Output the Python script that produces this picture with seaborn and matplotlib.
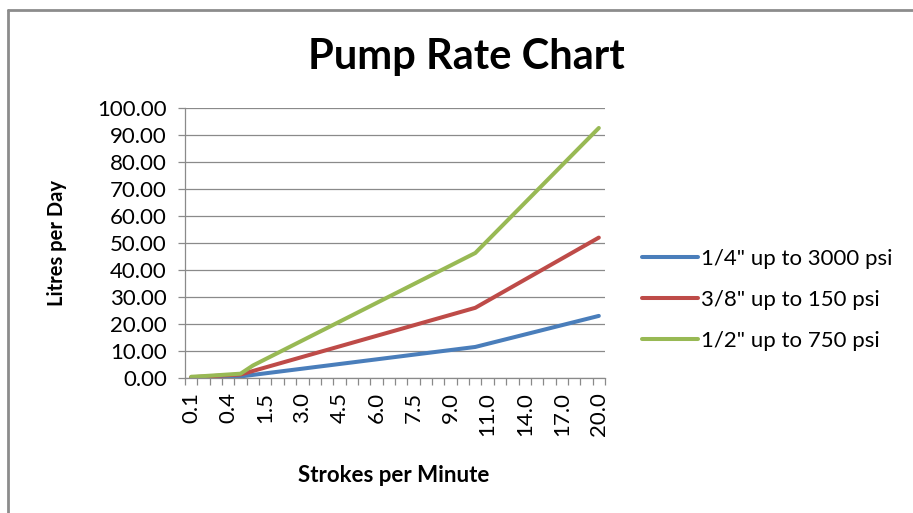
import matplotlib
matplotlib.use("Agg")
import matplotlib.pyplot as plt
from matplotlib.lines import Line2D
from matplotlib.ticker import FixedLocator, FormatStrFormatter
import pandas as pd
import seaborn as sns

# Data
strokes = [0.1, 0.2, 0.3, 0.4, 0.5, 1.0, 1.5, 2.0, 2.5, 3.0, 3.5, 4.0, 4.5, 5.0,
           5.5, 6.0, 6.5, 7.0, 7.5, 8.0, 8.5, 9.0, 9.5, 10.0, 11.0, 12.0, 13.0,
           14.0, 15.0, 16.0, 17.0, 18.0, 19.0, 20.0]
quarter_inch = [0.12, 0.23, 0.35, 0.46, 0.58, 1.15, 1.73, 2.30, 2.88, 3.45, 4.03,
                4.60, 5.18, 5.75, 6.33, 6.90, 7.48, 8.05, 8.63, 9.20, 9.78, 10.35,
                10.93, 11.50, 12.65, 13.80, 14.95, 16.10, 17.25, 18.40, 19.55,
                20.70, 21.85, 23.00]
three_eighth_inch = [0.26, 0.52, 0.78, 1.04, 1.30, 2.60, 3.90, 5.20, 6.50, 7.80,
                     9.10, 10.40, 11.70, 13.00, 14.30, 15.60, 16.90, 18.20, 19.50,
                     20.80, 22.10, 23.40, 24.70, 26.00, 28.60, 31.20, 33.80, 36.40,
                     39.00, 41.60, 44.20, 46.80, 49.40, 52.00]
half_inch = [0.46, 0.70, 1.00, 1.30, 1.60, 4.63, 6.95, 9.26, 11.58, 13.89, 16.21,
             18.52, 20.84, 23.15, 25.47, 27.78, 30.10, 32.41, 34.73, 37.04, 39.36,
             41.67, 43.99, 46.30, 50.93, 55.56, 60.19, 64.82, 69.45, 74.08, 78.71,
             83.34, 87.97, 92.60]
series_names = ['1/4" up to 3000 psi', '3/8" up to 150 psi', '1/2" up to 750 psi']
colors = ["#4A7EBB", "#BE4B48", "#98B954"]

labels = [f"{s:.1f}" for s in strokes]
df = pd.concat([
    pd.DataFrame({"Strokes": labels, "Litres": vals, "Series": name})
    for name, vals in zip(series_names, [quarter_inch, three_eighth_inch, half_inch])
])

sns.set_theme(style="white")
plt.rcParams["font.family"] = ["Lato", "DejaVu Sans"]
plt.rcParams["text.color"] = "black"

fig = plt.figure(figsize=(9.13, 5.13), dpi=100)
ax = fig.add_axes([185 / 913, 1 - 378 / 513, 420 / 913, 270 / 513])

sns.lineplot(data=df, x="Strokes", y="Litres", hue="Series", palette=colors,
             sort=False, linewidth=2.9, ax=ax, legend=True)

n = len(labels)
ax.set_xlim(-0.5, n - 0.5)
ax.set_ylim(0, 100)
ax.set_yticks(range(0, 101, 10))
ax.yaxis.set_major_formatter(FormatStrFormatter("%.2f"))
ax.grid(axis="y", color="#8a8a8a", linewidth=0.9)
ax.set_axisbelow(True)

ax.set_xticks(range(0, n, 3))
ax.set_xticklabels(labels[::3], rotation=90)
ax.xaxis.set_minor_locator(FixedLocator([i - 0.5 for i in range(n + 1)]))
ax.tick_params(axis="x", which="major", length=0, pad=10, labelsize=16, colors="black")
ax.tick_params(axis="x", which="minor", length=5, width=0.9, color="#8a8a8a", bottom=True)
ax.tick_params(axis="y", which="major", length=5, width=0.9, color="#8a8a8a",
               left=True, labelsize=16, pad=8)
for t in ax.get_xticklabels() + ax.get_yticklabels():
    t.set_color("black")

for side in ["top", "right"]:
    ax.spines[side].set_visible(False)
for side in ["left", "bottom"]:
    ax.spines[side].set_color("#8a8a8a")
    ax.spines[side].set_linewidth(0.9)

ax.set_xlabel("")
ax.set_ylabel("")
fig.text(57 / 913, 1 - 243 / 513, "Litres per Day", rotation=90, ha="center",
         va="center", fontsize=14.5, fontweight="bold", color="black")
fig.text(394 / 913, 1 - 476 / 513, "Strokes per Minute", ha="center",
         va="center", fontsize=16, fontweight="bold", color="black")
fig.text(466 / 913, 1 - 57 / 513, "Pump Rate Chart", ha="center", va="center",
         fontsize=30, fontweight="bold", color="black")

handles, names = ax.get_legend_handles_labels()
ax.legend_.remove()
fig.legend(handles, names, loc="center left", bbox_to_anchor=(622 / 913, 1 - 300 / 513),
           frameon=False, fontsize=16, handlelength=2.5, handletextpad=0.15,
           labelspacing=0.95, labelcolor="black")

# chart frame (top and left edges visible in the crop)
fig.add_artist(Line2D([8 / 913, 8 / 913], [0, 1 - 10 / 513], color="#8c8c8c", linewidth=2))
fig.add_artist(Line2D([8 / 913, 1], [1 - 10 / 513, 1 - 10 / 513], color="#8c8c8c", linewidth=2))

fig.savefig("out.png", dpi=100)
plt.close(fig)
